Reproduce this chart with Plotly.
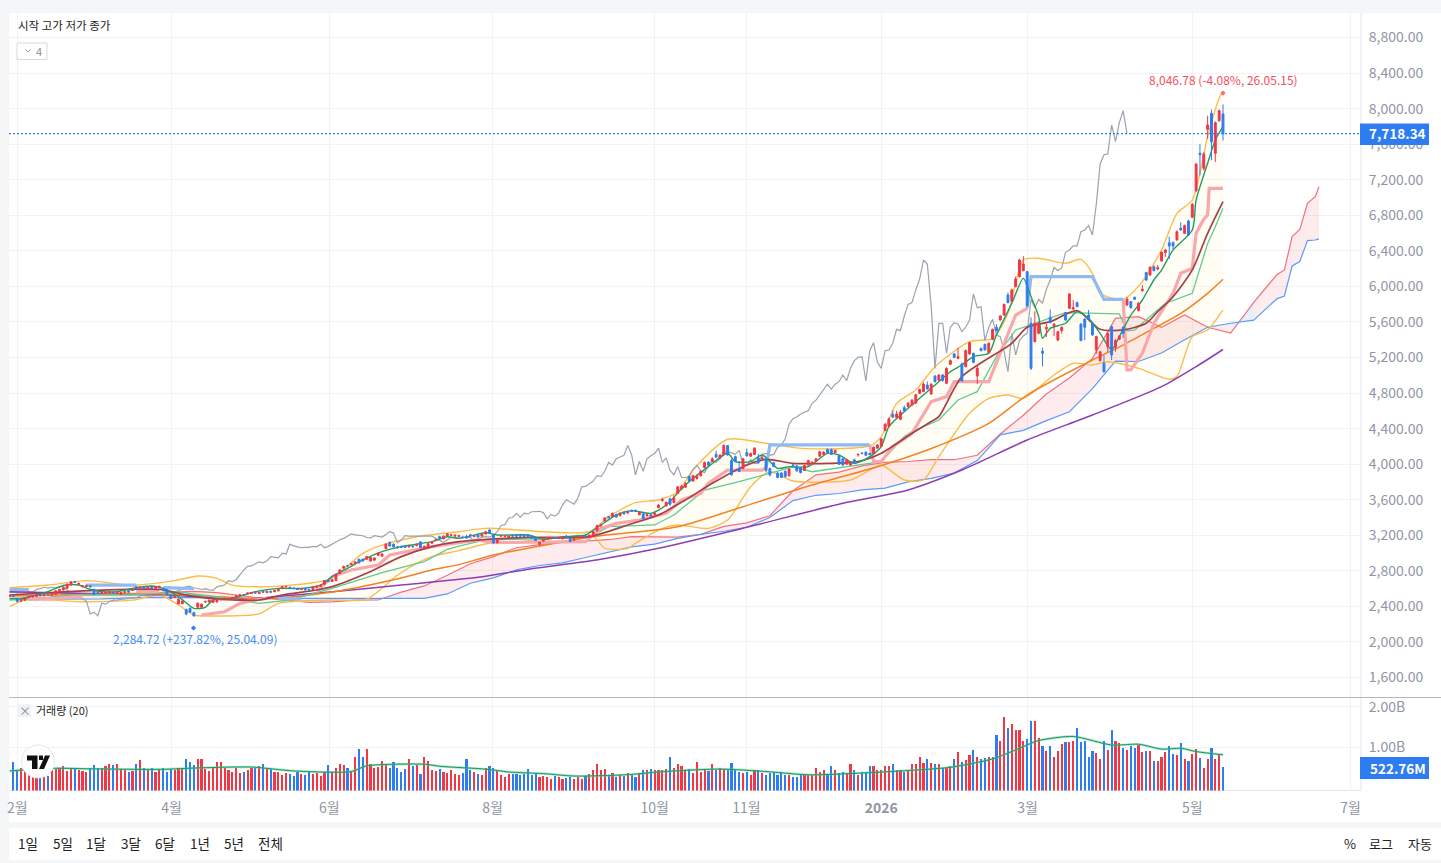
import plotly.graph_objects as go

W, H = 1441, 863
opens = [2515,2525,2480,2460,2470,2500,2505,2510,2535,2520,
2535,2525,2535,2570,2585,2605,2640,2680,2650,2620,
2625,2630,2590,2560,2545,2550,2555,2560,2545,2535,
2555,2575,2580,2620,2610,2620,2600,2625,2605,2615,
2600,2590,2530,2500,2430,2430,2365,2380,2330,2390,
2390,2450,2450,2445,2450,2475,2485,2480,2488,2500,
2520,2530,2540,2545,2555,2545,2570,2555,2570,2565,
2575,2600,2620,2615,2605,2600,2590,2600,2590,2590,
2610,2625,2650,2690,2680,2690,2770,2830,2860,2870,
2880,2930,2930,2930,2910,2920,2975,2965,3050,3120,
3100,3070,3070,3075,3070,3075,3085,3125,3060,3075,
3110,3140,3185,3160,3195,3200,3190,3185,3180,3185,
3205,3185,3200,3190,3215,3260,3205,3115,3190,3185,
3175,3200,3200,3205,3200,3205,3190,3170,3105,3135,
3160,3165,3175,3165,3160,3190,3165,3145,3170,3175,
3190,3175,3190,3250,3310,3360,3410,3410,3435,3420,
3460,3450,3480,3480,3430,3440,3420,3430,3435,3510,
3590,3530,3610,3570,3670,3720,3740,3860,3810,3840,
3870,3960,4020,4030,4110,4070,4110,4210,4040,4085,
3950,3950,4130,4090,4110,4070,4060,4060,3950,4015,
3900,3900,3920,3870,3990,3980,3960,3930,3990,4000,
4030,4090,4110,4165,4165,4130,4090,4060,4000,3990,
4050,4105,4125,4135,4120,4120,4180,4200,4380,4425,
4560,4525,4505,4635,4647,4665,4685,4797,4816,4890,
4790,4992,4947,5003,4910,5123,5240,5190,5127,5097,
5240,5247,4992,5303,5348,5254,5404,5540,5622,5678,
5903,5836,5997,6110,6177,6166,5585,5378,5472,5270,
5520,5652,5555,5397,5502,5705,5753,5745,5817,5577,
5633,5678,5585,5285,5165,5135,5322,5547,5314,5405,
5540,5790,5828,5877,5727,5952,6155,6128,6222,6195,
6286,6380,6492,6492,6522,6653,6597,6736,6777,7077,
7497,7328,7767,7947,7497,7865,7940]
closes = [2520,2515,2455,2475,2490,2510,2522,2525,2520,2535,
2530,2540,2575,2590,2610,2650,2675,2672,2658,2630,
2636,2620,2535,2545,2560,2558,2562,2552,2560,2555,
2565,2560,2590,2600,2615,2605,2615,2605,2620,2625,
2585,2530,2490,2510,2480,2460,2315,2335,2293,2435,
2425,2455,2470,2470,2480,2485,2490,2490,2498,2520,
2530,2525,2550,2555,2550,2560,2560,2570,2560,2580,
2590,2622,2625,2610,2600,2590,2600,2585,2580,2620,
2630,2640,2690,2680,2700,2760,2810,2850,2855,2880,
2900,2890,2910,2960,2950,2945,3000,2990,3100,3080,
3070,3060,3065,3065,3075,3070,3100,3060,3075,3105,
3125,3150,3165,3190,3215,3205,3200,3195,3175,3170,
3195,3190,3180,3210,3240,3225,3115,3145,3195,3190,
3190,3190,3190,3190,3190,3190,3165,3140,3120,3150,
3175,3175,3165,3175,3180,3180,3130,3160,3180,3185,
3180,3200,3240,3310,3320,3395,3400,3447,3405,3450,
3440,3465,3470,3470,3455,3385,3435,3415,3450,3540,
3600,3570,3550,3620,3745,3750,3780,3810,3870,3860,
3920,4020,3990,4060,4080,4100,4210,4105,3880,4030,
3920,4060,4095,4120,4180,4020,4070,3930,3880,3975,
3850,3850,3860,3945,3985,3925,3905,3985,4040,4020,
4060,4140,4135,4130,4110,4155,4000,3990,4050,4010,
4010,4110,4120,4100,4110,4190,4215,4285,4450,4510,
4530,4565,4585,4600,4685,4720,4780,4840,4900,4845,
4900,4928,5003,4940,5078,5165,5202,5210,4936,5277,
5367,5146,5078,5277,5285,5360,5517,5502,5667,5798,
5817,5960,6083,6297,6252,5783,5078,5585,5585,5248,
5540,5592,5577,5490,5540,5622,5915,5760,5772,5390,
5540,5630,5453,5435,5265,5040,5472,5228,5390,5442,
5472,5855,5760,5855,5810,5967,6072,6215,6177,6210,
6383,6410,6455,6455,6615,6635,6683,6578,6923,7377,
7482,7490,7816,7628,7842,7977,7718.34]
highs = [2530,2535,2490,2482,2500,2518,2530,2532,2540,2542,
2542,2548,2582,2598,2618,2656,2685,2690,2668,2640,
2645,2640,2600,2568,2570,2566,2570,2568,2568,2562,
2572,2582,2598,2628,2622,2628,2622,2632,2628,2632,
2608,2595,2535,2518,2490,2468,2375,2385,2340,2445,
2430,2465,2478,2478,2486,2492,2498,2497,2505,2528,
2538,2536,2558,2562,2562,2566,2575,2576,2575,2586,
2596,2628,2632,2622,2612,2606,2606,2606,2596,2626,
2636,2648,2696,2698,2708,2768,2818,2858,2868,2890,
2910,2938,2938,2968,2958,2952,3008,2998,3110,3130,
3108,3080,3085,3085,3095,3085,3108,3135,3085,3112,
3132,3158,3195,3198,3225,3215,3210,3205,3195,3205,
3215,3198,3205,3218,3250,3268,3210,3155,3205,3198,
3198,3208,3206,3215,3208,3210,3195,3175,3130,3160,
3182,3182,3182,3182,3188,3205,3170,3168,3188,3192,
3205,3208,3248,3318,3330,3402,3418,3455,3442,3458,
3468,3475,3490,3490,3465,3448,3445,3438,3458,3550,
3625,3580,3620,3650,3755,3770,3800,3870,3880,3885,
3930,4030,4035,4080,4150,4110,4222,4215,4060,4095,
4035,4070,4175,4130,4190,4115,4095,4065,3960,4025,
3915,3910,3930,3955,4010,3990,3970,3995,4050,4035,
4070,4150,4145,4175,4175,4165,4100,4070,4060,4030,
4060,4120,4135,4145,4130,4200,4225,4295,4460,4525,
4605,4600,4610,4660,4700,4730,4790,4850,4920,4930,
4910,5000,5010,5015,5090,5180,5250,5310,5145,5290,
5375,5255,5115,5310,5355,5370,5525,5575,5675,5805,
5930,5975,6110,6310,6340,6175,5650,5720,5600,5310,
5580,5740,5585,5500,5548,5712,5925,5845,5830,5585,
5640,5735,5590,5445,5275,5225,5480,5560,5410,5450,
5550,5880,5835,5885,5820,6015,6165,6225,6235,6240,
6395,6420,6560,6505,6630,6720,6695,6750,6935,7385,
7600,7510,7920,7990,7855,7990,8046.78]
lows = [2505,2505,2445,2450,2465,2495,2500,2505,2515,2515,
2525,2520,2530,2565,2580,2600,2635,2665,2645,2615,
2620,2612,2530,2535,2540,2545,2550,2545,2540,2530,
2550,2555,2575,2595,2605,2600,2595,2600,2600,2610,
2580,2525,2485,2495,2425,2425,2300,2325,2284.72,2385,
2385,2440,2445,2440,2445,2470,2480,2475,2482,2495,
2515,2520,2535,2540,2545,2540,2555,2550,2555,2560,
2570,2595,2615,2605,2595,2585,2585,2580,2575,2585,
2605,2620,2645,2672,2675,2685,2765,2825,2848,2865,
2875,2885,2905,2925,2905,2915,2970,2960,3045,3075,
3060,3050,3055,3058,3060,3060,3075,3055,3050,3070,
3105,3135,3155,3155,3190,3195,3185,3180,3165,3165,
3190,3180,3175,3185,3210,3220,3105,3110,3180,3180,
3170,3185,3185,3185,3185,3185,3160,3135,3080,3130,
3155,3160,3160,3160,3155,3175,3125,3140,3165,3170,
3175,3170,3185,3245,3290,3355,3390,3405,3400,3415,
3435,3445,3465,3465,3425,3380,3415,3410,3430,3505,
3580,3525,3530,3560,3665,3715,3735,3800,3805,3825,
3860,3955,3980,4025,4070,4065,4105,4095,3870,4020,
3910,3945,4085,4085,4105,4010,4050,3910,3860,3965,
3840,3845,3850,3860,3975,3915,3895,3925,3985,3995,
4025,4085,4105,4125,4105,4125,3990,3985,3990,3980,
4005,4085,4110,4095,4100,4115,4175,4195,4370,4420,
4520,4515,4495,4595,4640,4660,4680,4790,4810,4840,
4780,4920,4930,4930,4900,5115,5190,5180,4930,5090,
5235,5135,4900,5270,5280,5245,5395,5495,5615,5670,
5810,5830,5990,6100,6170,5775,5060,5370,5460,5100,
5430,5585,5440,5385,5470,5615,5745,5735,5765,5385,
5395,5625,5445,5240,5155,5030,5260,5170,5265,5395,
5420,5780,5750,5850,5720,5940,6060,6120,6170,6180,
6280,6330,6310,6420,6515,6625,6590,6570,6770,7060,
7250,7300,7660,7420,7400,7850,7640]
vols = [.65,.45,.52,.44,.38,.36,.32,.30,.30,.31,
.46,.48,.51,.55,.44,.52,.52,.46,.44,.40,
.50,.58,.50,.52,.55,.60,.59,.60,.48,.46,
.42,.44,.60,.70,.50,.48,.52,.42,.45,.50,
.40,.48,.46,.50,.50,.74,.66,.58,.73,.72,
.48,.44,.50,.65,.65,.50,.45,.42,.50,.38,
.42,.46,.52,.52,.56,.62,.50,.48,.40,.42,
.35,.38,.36,.32,.40,.36,.34,.40,.36,.38,
.32,.42,.58,.42,.50,.60,.58,.50,.44,.77,
.98,.78,.98,.62,.50,.54,.68,.60,.52,.65,
.50,.42,.48,.74,.56,.58,.36,.79,.68,.46,
.44,.48,.42,.38,.46,.36,.34,.38,.72,.45,
.40,.36,.34,.50,.57,.52,.44,.34,.30,.37,
.37,.36,.34,.36,.48,.34,.38,.30,.32,.28,
.25,.31,.30,.24,.26,.30,.25,.28,.25,.32,
.37,.47,.60,.46,.48,.34,.38,.30,.35,.32,
.38,.34,.30,.38,.46,.45,.48,.46,.45,.46,
.48,.77,.50,.60,.56,.46,.48,.38,.65,.42,
.45,.43,.60,.45,.50,
.48,.47,.64,.47,.42,.38,.42,.35,.47,.45,
.38,.35,.38,.40,.35,.40,.33,.33,.30,.28,
.33,.35,.35,.34,.52,.42,.45,.35,.57,.47,
.38,.42,.38,.62,.47,.35,.42,.42,.55,.55,
.45,.47,.55,.55,.60,.47,.47,.42,.47,.60,
.60,.77,.63,.72,.63,.62,.60,.50,.52,.55,
.74,.91,.65,.70,.83,.96,.78,.72,.76,.79,
.79,1.31,1.18,1.77,1.49,1.59,1.43,1.43,1.16,1.23,
1.65,1.67,1.24,1.04,.92,1.06,.79,.92,1.09,1.14,
1.14,1.18,1.50,1.14,1.18,.78,.92,.88,.72,1.16,
.96,1.43,1.18,1.12,1.00,.94,1.04,1.01,1.08,.90,
.92,.92,.69,.69,.79,.90,1.04,.86,.83,1.13,
.72,.67,.86,.98,.76,.52,.72,1.01,.74,.83,.52276]
vol_ma_i = [0,12,22,40,49,63,74,89,93,108,112,124,130,139,147,162,169,185,197,208,221,233,245,256,262,268,277,287,294,300,305,309,316]
vol_ma_v = [.425,.49,.475,.465,.50,.52,.425,.41,.55,.59,.54,.47,.40,.36,.30,.34,.40,.47,.41,.33,.37,.43,.515,.72,.94,1.17,1.27,1.06,1.08,.96,.98,.90,.82]

ma_green_i = [0,3,6,10,14,18,21,24,28,32,37,40,44,48,51,53,58,64,70,76,81,84,88,92,97,102,110,114,117,124,127,135,139,144,150,154,158,162,167,171,176,182,187,189,193,196,200,203,208,213,216,220,224,227,229,233,238,242,245,248,251,255,257,261,264,266,268,269,271,275,278,281,284,287,289,292,295,298,300,303,308,309,312,314,316]
ma_green_v = [2490,2490,2517,2566,2635,2640,2590,2566,2566,2603,2630,2603,2510,2378,2390,2472,2490,2566,2603,2603,2640,2735,2828,2922,3016,3072,3128,3184,3165,3229,3203,3203,3154,3184,3203,3316,3428,3477,3447,3541,3766,3972,4122,4028,4028,4103,3953,3972,3972,4122,4103,4009,4084,4197,4422,4590,4778,4928,5040,5116,5210,5247,5453,5810,6090,5885,5660,5416,5528,5585,5716,5640,5472,5285,5435,5678,5847,6072,6184,6410,6634,6972,7385,7647,7797]
ma_brown_i = [0,15,24,32,39,46,52,58,65,71,80,84,93,102,110,117,135,151,161,169,176,183,191,197,204,213,221,227,235,240,242,248,261,265,271,278,284,290,296,299,303,308,312,316]
ma_brown_v = [2528,2566,2584,2592,2592,2528,2490,2472,2472,2528,2584,2622,2772,2960,3072,3128,3177,3184,3316,3428,3597,3785,3972,4054,4009,4009,4028,4122,4347,4480,4534,4984,5360,5540,5603,5727,5517,5510,5585,5716,5884,6185,6597,6953]
light_green_i = [0,10,16,32,43,52,65,73,84,97,108,114,117,122,125,151,156,168,173,181,190,196,204,209,221,225,227,233,235,242,247,252,257,262,265,270,275,289,291,293,301,308,312,314,316]
light_green_v = [2472,2500,2528,2528,2566,2517,2434,2472,2603,2780,2903,3042,3079,3128,3147,3177,3297,3316,3428,3709,3803,3878,3970,3915,3990,4009,4028,4310,4366,4497,4722,4816,5210,5510,5555,5622,5705,5690,5500,5509,5810,5922,6484,6672,6878]
ma_orange_i = [0,40,67,84,100,111,117,126,152,174,191,209,226,239,255,265,282,290,298,305,312,316]
ma_orange_v = [2517,2540,2490,2562,2700,2820,2870,2978,3184,3297,3522,3766,3972,4160,4460,4778,5172,5340,5528,5697,5922,6080]
ma_purple_i = [0,20,40,50,60,67,84,102,122,134,154,169,192,217,234,248,265,282,300,309,316]
ma_purple_v = [2565,2545,2530,2505,2480,2500,2565,2640,2727,2810,2930,3053,3290,3560,3710,3934,4272,4553,4872,5097,5290]
bb_upper_i = [0,10,20,32,43,49,54,58,67,78,84,92,97,106,117,124,151,156,163,169,174,178,187,197,206,224,227,231,236,241,250,256,260,264,268,275,279,282,284,290,295,300,304,308,312,315,316]
bb_upper_v = [2610,2640,2690,2640,2690,2742,2716,2640,2622,2660,2716,2997,3090,3184,3240,3278,3240,3410,3567,3597,3690,3934,4280,4235,4178,4205,4310,4684,4834,5097,5378,5415,5697,6297,6316,6260,6304,6147,5922,5855,6053,6410,6822,6972,7685,8116,8190]
bb_lower_i = [0,4,11,19,32,39,44,48,53,65,70,84,93,101,106,110,117,125,133,152,155,161,163,170,174,182,187,193,198,204,219,224,227,233,238,242,250,255,260,264,272,277,282,286,294,302,304,308,312,316]
bb_lower_v = [2397,2470,2470,2452,2470,2528,2416,2303,2292,2315,2434,2472,2480,2750,2884,2960,3027,3110,3128,3184,3053,3053,3110,3278,3316,3278,3372,3747,3916,3810,3822,3934,3990,3822,3822,4084,4572,4740,4778,4740,5003,5135,5116,5153,5078,4955,4985,5434,5510,5735]
cloud_i = [0,12,24,36,48,54,60,66,72,78,84,90,96,102,108,114,120,126,132,138,144,150,156,162,168,174,180,186,192,198,204,210,216,222,228,234,240,246,252,258,264,270,276,282,288,294,300,306,312,318,324,330,332,334,336,338,340,341]
span_a = [2560,2555,2545,2550,2570,2555,2525,2490,2472,2445,2450,2470,2472,2560,2630,2750,2880,2960,3060,3095,3120,3135,3150,3184,3180,3180,3210,3300,3340,3420,3700,3880,3910,3980,4020,4030,4050,4050,4100,4340,4550,4790,4970,5190,5640,5660,5540,5678,5540,5475,5820,6130,6185,6560,6640,6935,7010,7120]
span_b = [2480,2480,2485,2502,2502,2495,2490,2490,2490,2490,2490,2490,2490,2490,2490,2540,2660,2720,2810,2860,2890,2950,3010,3070,3100,3165,3210,3245,3290,3400,3590,3650,3670,3710,3730,3800,3840,3900,4040,4330,4380,4490,4590,4850,5160,5155,5250,5400,5540,5585,5620,5860,5892,6230,6280,6515,6522,6535]
st_red_i = [5,12,19,None,33,39,None,50,56,60,64,67,None,80,84,89,96,99,110,122,126,150,154,158,164,171,175,180,182,187,196,197,None,224,225,227,230,235,240,244,246,255,258,262,265,None,290,291,292,295,298,303,305,308,309,311,312,312.4,316]
st_red_v = [2480,2490,2510,None,2566,2566,None,2303,2340,2434,2472,2490,None,2566,2735,2810,2866,2978,3072,3147,3117,3128,3278,3334,3372,3447,3597,3672,3785,3934,3934,3960,None,4216,4028,4028,4197,4347,4703,4760,4928,4928,5247,5678,5753,None,5855,5060,5060,5247,5584,5922,6147,6203,6597,6755,6803,7103,7103]
st_blue_i = [0,5,None,20,33,None,40,48,None,70,76,None,197,198,224,None,265,266,282,285,290]
st_blue_v = [2590,2590,None,2640,2640,None,2610,2600,None,2490,2483,None,3960,4216,4216,None,5753,6109,6109,5855,5855]
month_ticks = [2.0,42.2,83.3,125.8,168,191.9,227,265.1,308,349.2]
month_labels = ["2월","4월","6월","8월","10월","11월","<b>2026</b>","3월","5월","7월"]
price_ticks = [1600,2000,2400,2800,3200,3600,4000,4400,4800,5200,5600,6000,6400,6800,7200,7600,8000,8400,8800]
last_close = 7718.34
last_volume = 522.76
range_labels = ["1일","5일","1달","3달","6달","1년","5년","전체"]
scale_labels = ["%","로그","자동"]

N = len(closes)
assert len(opens)==N and len(highs)==N and len(lows)==N, (len(opens),len(closes),len(highs),len(lows))
idx = list(range(N))
last = N-1
s = 3.84
XR = [last-(1223-9)/s, last+(1361-1223)/s]
RED, BLUE = "#f23645", "#2e7df0"
FONT = "Noto Sans CJK KR"
OFFL, OFFT = 2.0, 2.0
fx = lambda p: (p-OFFL)/(W-OFFL)
fy = lambda p: 1-(p-OFFT)/(H-OFFT)

fig = go.Figure()
def line(x, y, color, width, smooth=False):
    ln = dict(color=color, width=width)
    if smooth:
        ln.update(shape="spline", smoothing=0.7)
    fig.add_trace(go.Scatter(x=x, y=y, mode="lines", line=ln, hoverinfo="skip", showlegend=False, connectgaps=False))

fig.add_trace(go.Scatter(x=bb_upper_i+bb_lower_i[::-1], y=bb_upper_v+bb_lower_v[::-1], fill="toself", fillcolor="rgba(255,238,180,0.14)", mode="none", hoverinfo="skip", showlegend=False))
start = 0
for k in range(1, len(cloud_i)+1):
    if k==len(cloud_i) or (span_a[k]>=span_b[k]) != (span_a[start]>=span_b[start]):
        end = min(k, len(cloud_i)-1)
        xs = cloud_i[start:end+1]
        col = "rgba(242,100,115,0.13)" if span_a[start]>=span_b[start] else "rgba(80,150,245,0.15)"
        fig.add_trace(go.Scatter(x=xs+xs[::-1], y=span_a[start:end+1]+span_b[start:end+1][::-1], fill="toself", fillcolor=col, mode="none", hoverinfo="skip", showlegend=False))
        start = k
line(cloud_i, span_a, "#f0707e", 1.2)
line(cloud_i, span_b, "#5a9cf5", 1.2)
line(bb_upper_i, bb_upper_v, "#fbbc4e", 1.4, True)
line(bb_lower_i, bb_lower_v, "#fbbc4e", 1.4, True)
line(idx[:N-25], closes[25:], "#9aa3ae", 1.2)
line(ma_purple_i, ma_purple_v, "#8e3db5", 1.5, True)
line(ma_orange_i, ma_orange_v, "#f5821f", 1.5, True)
line(light_green_i, light_green_v, "#5fcb92", 1.3)
line(st_red_i, st_red_v, "#f8a8ac", 3.2)
line(st_blue_i, st_blue_v, "#8fbaf2", 3.2)
line(ma_brown_i, ma_brown_v, "#a5404a", 1.7, True)
line(ma_green_i, ma_green_v, "#1f9d63", 1.4, True)

fig.add_trace(go.Candlestick(x=idx, open=opens, high=highs, low=lows, close=closes, yaxis="y3", whiskerwidth=0,
    increasing=dict(line=dict(color=RED, width=1), fillcolor=RED),
    decreasing=dict(line=dict(color=BLUE, width=1), fillcolor=BLUE),
    hoverinfo="skip", showlegend=False))
fig.add_trace(go.Scatter(x=[47.9, last], y=[2157, 8175], yaxis="y3", mode="markers", marker=dict(symbol="diamond", size=4, color=[BLUE, "#f9705f"]), hoverinfo="skip", showlegend=False))

vfloor = -0.054
vx = [N-len(vols)+j for j in range(len(vols))]
vc = [RED if closes[j]>=opens[j] else BLUE for j in vx]
fig.add_trace(go.Bar(x=vx, y=[v-vfloor for v in vols], base=vfloor, width=0.56, marker=dict(color=vc, line=dict(width=0)), xaxis="x2", yaxis="y2", hoverinfo="skip", showlegend=False))
fig.add_trace(go.Scatter(x=vol_ma_i, y=vol_ma_v, mode="lines", line=dict(color="rgba(90,200,150,0.5)", width=2.5, shape="spline", smoothing=0.7), xaxis="x2", yaxis="y2", hoverinfo="skip", showlegend=False))
fig.add_trace(go.Scatter(x=vol_ma_i, y=vol_ma_v, mode="lines", line=dict(color="#159a5f", width=1, shape="spline", smoothing=0.7), xaxis="x2", yaxis="y2", hoverinfo="skip", showlegend=False))

GRID = "#f1f2f4"
AX = dict(size=14, color="#8f96a3", family=FONT)
main_dom = [fy(697.5), fy(13)]
vol_dom = [fy(790.5), fy(697.5)]
mp = 11.25
main_range = [1600-(697.5-677.5)*mp, 8800+(37.5-13)*mp]
common_x = dict(domain=[fx(9), fx(1361)], range=XR, tickmode="array", tickvals=month_ticks, showgrid=True, gridcolor=GRID, gridwidth=1, zeroline=False, fixedrange=True, showline=False)
fig.update_layout(
    width=W, height=H, margin=dict(l=0, r=0, t=0, b=0), autosize=False,
    paper_bgcolor="#f4f6f8", plot_bgcolor="rgba(0,0,0,0)", showlegend=False, boxgap=0.3, bargap=0,
    font=dict(family=FONT),
    xaxis=dict(**common_x, anchor="y", showticklabels=False, rangeslider=dict(visible=False)),
    xaxis2=dict(**common_x, anchor="y2", matches="x", ticktext=month_labels, showticklabels=True, tickfont=AX, ticks="outside", ticklen=5, tickcolor="rgba(0,0,0,0)"),
    yaxis=dict(domain=main_dom, range=main_range, anchor="x", side="right", tickmode="array", tickvals=price_ticks, tickformat=",.2f", tickfont=AX, showgrid=True, gridcolor=GRID, zeroline=False, fixedrange=True, ticks="outside", ticklen=4, tickcolor="rgba(0,0,0,0)"),
    yaxis3=dict(domain=main_dom, range=main_range, overlaying="y", side="right", showticklabels=False, showgrid=False, zeroline=False, fixedrange=True),
    yaxis2=dict(domain=vol_dom, range=[vfloor, 2.225], anchor="x2", side="right", tickmode="array", tickvals=[1,2], ticktext=["1.00B","2.00B"], tickfont=AX, showgrid=True, gridcolor=GRID, zeroline=False, fixedrange=True, ticks="outside", ticklen=4, tickcolor="rgba(0,0,0,0)"),
)
def rect(x0,y0,x1,y1,fill,lc=None,layer="below",lw=1):
    fig.add_shape(type="rect", xref="paper", yref="paper", x0=fx(x0), x1=fx(x1), y0=fy(y0), y1=fy(y1), fillcolor=fill, line=dict(color=lc or fill, width=lw if lc else 0), layer=layer)
def seg(x0,y0,x1,y1,c,w=1,layer="above"):
    fig.add_shape(type="line", xref="paper", yref="paper", x0=fx(x0), x1=fx(x1), y0=fy(y0), y1=fy(y1), line=dict(color=c, width=w), layer=layer)
def text(x,y,t,size=14,color="#222",anchor="center",bg=None,bold=False):
    fig.add_annotation(xref="paper", yref="paper", x=fx(x), y=fy(y), text=("<b>%s</b>"%t if bold else t), showarrow=False, xanchor=anchor, yanchor="middle", font=dict(size=size, color=color, family=FONT), bgcolor=bg, borderpad=0)
def path(pts, fill):
    d = "M"+" L".join("%.5f,%.5f"%(fx(a),fy(b)) for a,b in pts)+" Z"
    fig.add_shape(type="path", xref="paper", yref="paper", path=d, fillcolor=fill, line=dict(width=0), layer="above")

rect(9,13,W,822,"#ffffff")
rect(9,828,W,860,"#ffffff")
seg(1361,13,1361,790.5,"#e3e5e9",1,"below")
seg(9,790.5,1361,790.5,"#e3e5e9",1,"below")
seg(9,697.5,W,697.5,"#b3b8c0",1)
fig.add_shape(type="line", xref="x", yref="y", x0=XR[0], x1=XR[1], y0=last_close, y1=last_close, line=dict(color=BLUE, width=1.2, dash="2px,2px"), layer="above")
text(17,24.5,"시작 고가 저가 종가",11.5,"#222","left")
fig.add_shape(type="rect", xref="paper", yref="paper", x0=fx(17), x1=fx(47), y0=fy(43), y1=fy(59.5), line=dict(color="#d6d9de", width=1), fillcolor="#fff", layer="above")
fig.add_shape(type="path", xref="paper", yref="paper", path="M%.5f,%.5f L%.5f,%.5f L%.5f,%.5f"%(fx(25.5),fy(49.5),fx(28),fy(52),fx(30.5),fy(49.5)), line=dict(color="#8a8f98", width=1), layer="above")
text(39,51,"4",11,"#8a8f98")
rect(18,704,31,717,"#f1f2f4",layer="above")
text(24.5,710,"×",12,"#8a8f98")
text(35,710,"거래량 (20)",11,"#222","left")
text(1223,79.5,"8,046.78 (-4.08%, 26.05.15)",12,"#f44f5e")
text(194.5,638.5,"2,284.72 (+237.82%, 25.04.09)",12,"#3f8bf0")
rect(1360,123.5,1429,145,BLUE,layer="above")
text(1397.5,133.5,"{:,.2f}".format(last_close),13.5,"#ffffff",bold=True)
rect(1360,757,1429,779,BLUE,layer="above")
text(1397.5,767.5,"{:.2f}M".format(last_volume),13.5,"#ffffff",bold=True)
fig.add_shape(type="circle", xref="paper", yref="paper", x0=fx(21.5), x1=fx(54.5), y0=fy(745), y1=fy(778), fillcolor="#ffffff", line=dict(color="#e4e6ea", width=1), layer="above")
path([(27,755.5),(37.5,755.5),(37.5,769),(32,769),(32,760.5),(27,760.5)], "#111111")
path([(39,755.5),(43,755.5),(43,760),(39,760)], "#111111")
path([(45,755.5),(50,755.5),(44,769),(39,769)], "#111111")
for xp,t in zip([28,63,96,131,165,200,234,270], range_labels):
    text(xp,843,t,13.5,"#222")
for xp,t in zip([1350,1381,1420], scale_labels):
    text(xp,843,t,13,"#222")

fig.write_html("out.html", config=dict(displayModeBar=False), post_script="document.body.style.margin='0';document.body.style.background='#f4f6f8';")
